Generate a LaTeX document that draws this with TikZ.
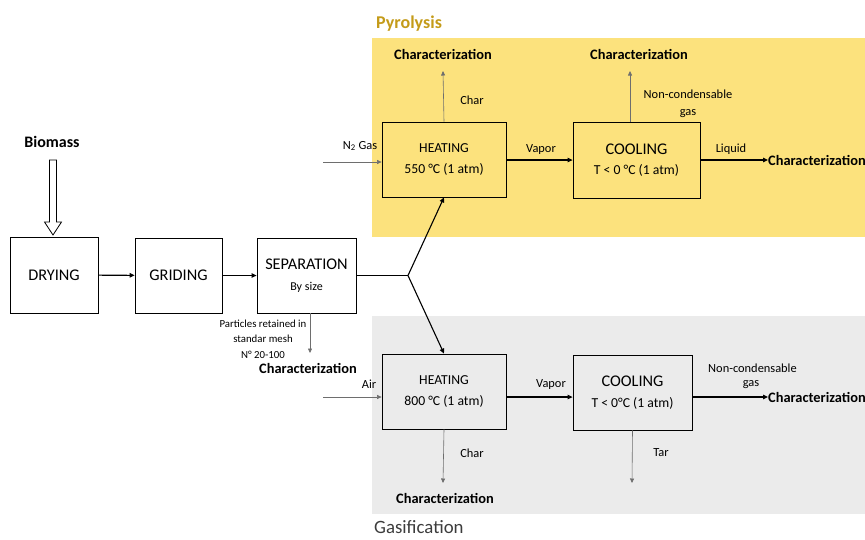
\documentclass[tikz,border=0pt]{standalone}
\usepackage{fontspec}
\setmainfont{Carlito}
\usetikzlibrary{arrows.meta}
\definecolor{pyro}{RGB}{252,226,125}
\definecolor{gasi}{RGB}{235,235,235}
\definecolor{pyrotext}{RGB}{196,155,25}
\definecolor{gasitext}{RGB}{60,60,60}
\definecolor{thin}{RGB}{110,110,110}
\tikzset{
  procbox/.style={draw=black, line width=0.8pt, fill=white, align=center, inner sep=2pt},
  pbox/.style={procbox, fill=none},
  mainarrow/.style={line width=1.1pt, -{Triangle[length=5pt,width=4.5pt]}},
  sidearrow/.style={draw=thin, line width=0.6pt, -{Triangle[length=4.5pt,width=4pt]}, color=thin},
  charlbl/.style={font=\fontsize{14.4}{16}\selectfont\bfseries, inner sep=0pt},
  small/.style={font=\fontsize{12.4}{17}\selectfont, inner sep=0pt, align=center},
  tiny/.style={font=\fontsize{10.8}{15.5}\selectfont, inner sep=0pt, align=center}
}
\newcommand{\bigline}{\fontsize{16.3}{20.5}\selectfont}
\newcommand{\subline}{\fontsize{13.7}{20.5}\selectfont}
\begin{document}
\begin{tikzpicture}[x=1pt,y=-1pt]
\useasboundingbox (0,0) rectangle (865,539);
% backgrounds
\fill[pyro] (372,38) rectangle (865,237);
\fill[gasi] (372,316) rectangle (865,514);
\node[text=pyrotext, font=\fontsize{18}{20}\selectfont\bfseries, anchor=west, inner sep=0pt] (pyrolbl) at (376,24) {Pyrolysis};
\node[text=gasitext, font=\fontsize{18.8}{21}\selectfont, anchor=west, inner sep=0pt] (gasilbl) at (374,527) {Gasification};

% biomass
\node[font=\fontsize{16}{18}\selectfont\bfseries, inner sep=0pt] (bio) at (52,142) {Biomass};
\draw[line width=0.8pt, fill=white] (49.5,160) -- (56.5,160) -- (56.5,222) -- (61.5,222) -- (53,235) -- (44.5,222) -- (49.5,222) -- cycle;

% main boxes
\node[procbox, minimum width=88pt, minimum height=76pt, font=\bigline] (dry) at (54,275) {DRYING};
\node[procbox, minimum width=87pt, minimum height=75pt, font=\bigline] (grid) at (178.5,275.5) {GRIDING};
\node[procbox, minimum width=99pt, minimum height=75pt, font=\bigline] (sep) at (306.5,275.5) {\bigline SEPARATION\\\fontsize{12}{20.5}\selectfont By size};

\node[pbox, minimum width=124pt, minimum height=75pt, font=\subline] (ph) at (444,159.5) {\subline HEATING\\\subline 550 °C (1 atm)};
\node[pbox, minimum width=127pt, minimum height=76pt, font=\subline] (pc) at (636.5,160) {\bigline COOLING\\\subline T < 0 °C (1 atm)};
\node[pbox, minimum width=124pt, minimum height=75pt, font=\subline] (gh) at (444,391.5) {\subline HEATING\\\subline 800 °C (1 atm)};
\node[pbox, minimum width=119pt, minimum height=75pt, font=\subline] (gc) at (632.5,392.5) {\bigline COOLING\\\subline T < 0°C (1 atm)};

% main flow
\draw[mainarrow] (dry) -- (grid);
\draw[mainarrow] (grid) -- (sep.west |- grid.east);
\coordinate (branch) at (408,275.5);
\draw[line width=1.1pt] (sep.east |- branch) -- (branch);
\draw[mainarrow] (branch) -- (ph.south);
\draw[mainarrow] (branch) -- (gh.north);

% separation output
\node[tiny] (particles) at (263,339) {Particles retained in\\standar mesh\\N° 20-100};
\node[charlbl] (sepchar) at (308,368) {Characterization};
\draw[sidearrow] (sep.south -| 310,0) -- (310,353);

% pyrolysis
\node[small] (n2) at (360,146) {N\textsubscript{2} Gas};
\coordinate (n2start) at (323,162);
\draw[sidearrow] (n2start) -- (n2start -| ph.west);
\node[charlbl] (pchar1) at (443,54) {Characterization};
\draw[sidearrow] (ph.north) -- (443,71);
\node[small] (charp) at (472,100) {Char};
\node[small] (vaporp) at (541,150) {Vapor};
\draw[mainarrow] (ph.east |- 0,160) -- (pc.west |- 0,160);
\node[charlbl] (pchar2) at (639,54) {Characterization};
\draw[sidearrow] (630,122) -- (630,71);
\node[small] (ncgp) at (688,104) {Non-condensable\\gas};
\node[small] (liquid) at (731,149) {Liquid};
\node[charlbl, anchor=west] (pchar3) at (768,160) {Characterization};
\draw[mainarrow] (pc.east |- pchar3.west) -- (pchar3.west);

% gasification
\node[small] (air) at (369,384) {Air};
\coordinate (airstart) at (323,397);
\draw[sidearrow] (airstart) -- (airstart -| gh.west);
\node[small] (vaporg) at (551,385) {Vapor};
\draw[mainarrow] (gh.east |- 0,397) -- (gc.west |- 0,397);
\draw[sidearrow] (gh.south) -- (443,483);
\node[small] (charg) at (472,453) {Char};
\node[charlbl] (gchar1) at (445,498) {Characterization};
\coordinate (tarend) at (632,483);
\draw[sidearrow] (gc.south) -- (tarend);
\node[small] (tar) at (661,453) {Tar};
\node[small, anchor=west] (ncg1) at (708,368) {Non-condensable};
\node[small] (ncg2) at (751,385) {gas};
\node[charlbl, anchor=west] (gchar2) at (768,397) {Characterization};
\draw[mainarrow] (gc.east |- gchar2.west) -- (gchar2.west);
\end{tikzpicture}
\end{document}
